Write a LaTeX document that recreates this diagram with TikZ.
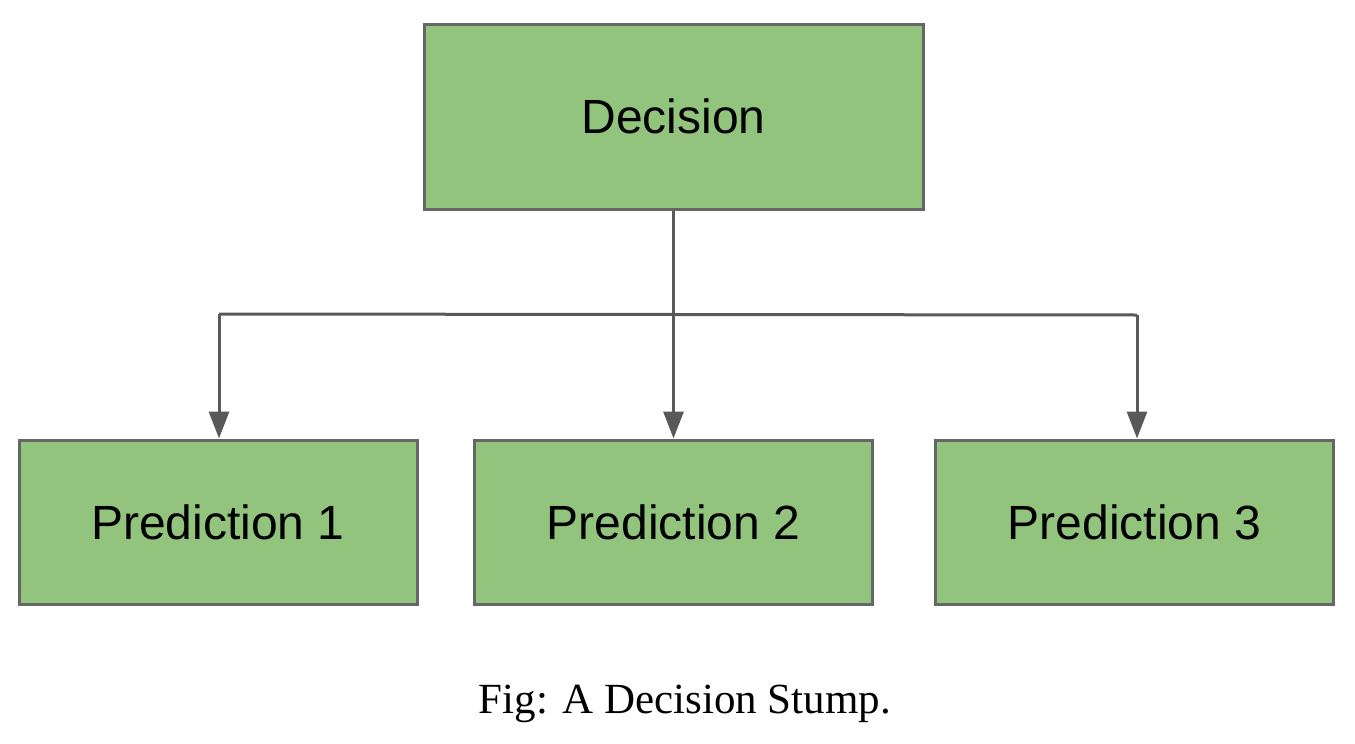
\documentclass[tikz,border=0pt]{standalone}
\usepackage{fontspec}
\setmainfont{Liberation Sans}
\newfontfamily\capfont{Liberation Serif}
\usetikzlibrary{arrows.meta}
\definecolor{boxfill}{HTML}{93C47D}
\definecolor{boxline}{HTML}{666666}
\definecolor{conn}{HTML}{595959}
\tikzset{
  box/.style={draw=boxline, fill=boxfill, line width=1.5pt, inner sep=0pt,
    font=\fontsize{24}{28}\selectfont, text=black},
  topbox/.style={box, minimum width=249.5pt, minimum height=92.5pt},
  predbox/.style={box, minimum width=199pt, minimum height=82pt},
  link/.style={draw=conn, line width=1.5pt},
  arrowlink/.style={link, -{Triangle[length=13.5pt,width=10pt]}}
}
\begin{document}
\begin{tikzpicture}[x=0.5pt,y=-0.5pt]
\useasboundingbox (0,0) rectangle (1355,744);
\node[topbox] (D) at (673.5,116.5) {Decision};
\node[predbox] (P1) at (218,522) {Prediction 1};
\node[predbox] (P2) at (673.5,522) {Prediction 2};
\node[predbox] (P3) at (1134.5,522) {Prediction 3};
\coordinate (hl) at (219,314);
\coordinate (hr) at (1137,315);
\draw[link] (hl) -- (hr);
\draw[arrowlink] (D.south) -- (P2.north);
\draw[arrowlink] (hl) -- (hl |- P1.north);
\draw[arrowlink] (hr) -- (hr |- P3.north);
\node[anchor=base, font=\capfont\fontsize{21.5}{26}\selectfont] (cap) at (685,713) {Fig: A Decision Stump.};
\end{tikzpicture}
\end{document}
